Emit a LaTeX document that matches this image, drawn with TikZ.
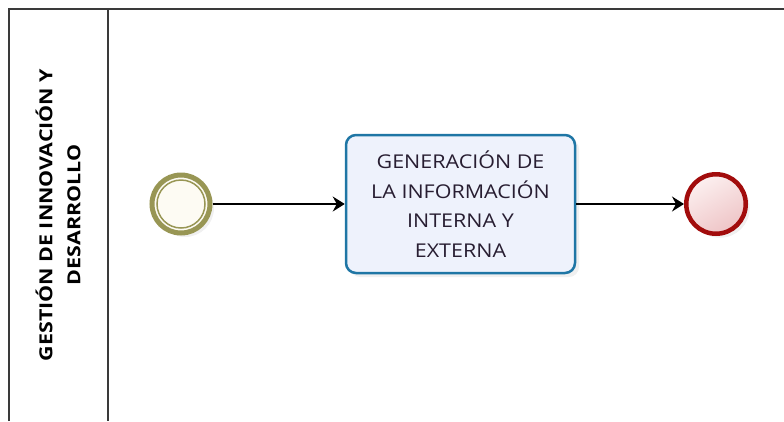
\documentclass[tikz,border=0pt]{standalone}
\usepackage{fontspec}
\setmainfont{Open Sans}
\newfontfamily\taskfont[FakeStretch=1.13]{Open Sans}
\newfontfamily\lanefont[FakeStretch=1.19]{Open Sans}
\usetikzlibrary{arrows.meta,shadows,positioning}
\definecolor{poolline}{RGB}{58,58,58}
\definecolor{olivering}{RGB}{152,150,84}
\definecolor{startfill}{RGB}{253,251,243}
\definecolor{taskline}{RGB}{31,118,165}
\definecolor{taskfill}{RGB}{238,242,252}
\definecolor{endline}{RGB}{162,12,12}
\definecolor{endfillA}{RGB}{252,240,240}
\definecolor{endfillB}{RGB}{238,196,198}
\definecolor{tasktext}{RGB}{40,30,50}

\begin{document}
\begin{tikzpicture}[x=1pt,y=-1pt,
  pool/.style={draw=poolline,line width=1.5pt},
  softshadow/.style={drop shadow={opacity=0.12,shadow xshift=4pt,shadow yshift=-4pt}},
  startev/.style={circle,draw=olivering,line width=5pt,fill=startfill,minimum size=58pt,inner sep=0pt,softshadow,
    path picture={\draw[olivering,line width=1.5pt] (path picture bounding box.center) circle (24pt);}},
  endev/.style={circle,draw=endline,line width=4.5pt,top color=endfillA,bottom color=endfillB,shading angle=30,minimum size=59.5pt,inner sep=0pt,softshadow},
  taskbox/.style={rectangle,rounded corners=10pt,draw=taskline,line width=2.5pt,fill=taskfill,minimum width=229pt,minimum height=138pt,
    inner sep=0pt,align=center,text=tasktext,font=\taskfont\fontsize{19}{29.5}\selectfont,softshadow},
  lanelabel/.style={rotate=90,align=center,font=\lanefont\bfseries\fontsize{18}{28}\selectfont},
  flow/.style={-{Stealth[length=12pt,width=15pt,inset=4pt]},line width=1.5pt,black}]
  \useasboundingbox (0,0) rectangle (784,421);
  % pool and lane
  \draw [pool] (9,421) -- (9,9) -- (784,9);
  \draw [pool] (108,9) -- (108,421);
  \node [lanelabel] (lane) at (58,215) {GESTIÓN DE INNOVACIÓN Y\\DESARROLLO};
  % events and task
  \node [startev] (start) at (181,204) {};
  \node [taskbox] (gen) at (460.5,204) {GENERACIÓN DE\\LA INFORMACIÓN\\INTERNA Y\\EXTERNA};
  \node [endev] (end) at (716,204) {};
  \draw [flow] (start) -- (gen);
  \draw [flow] (gen) -- (end);
\end{tikzpicture}
\end{document}
